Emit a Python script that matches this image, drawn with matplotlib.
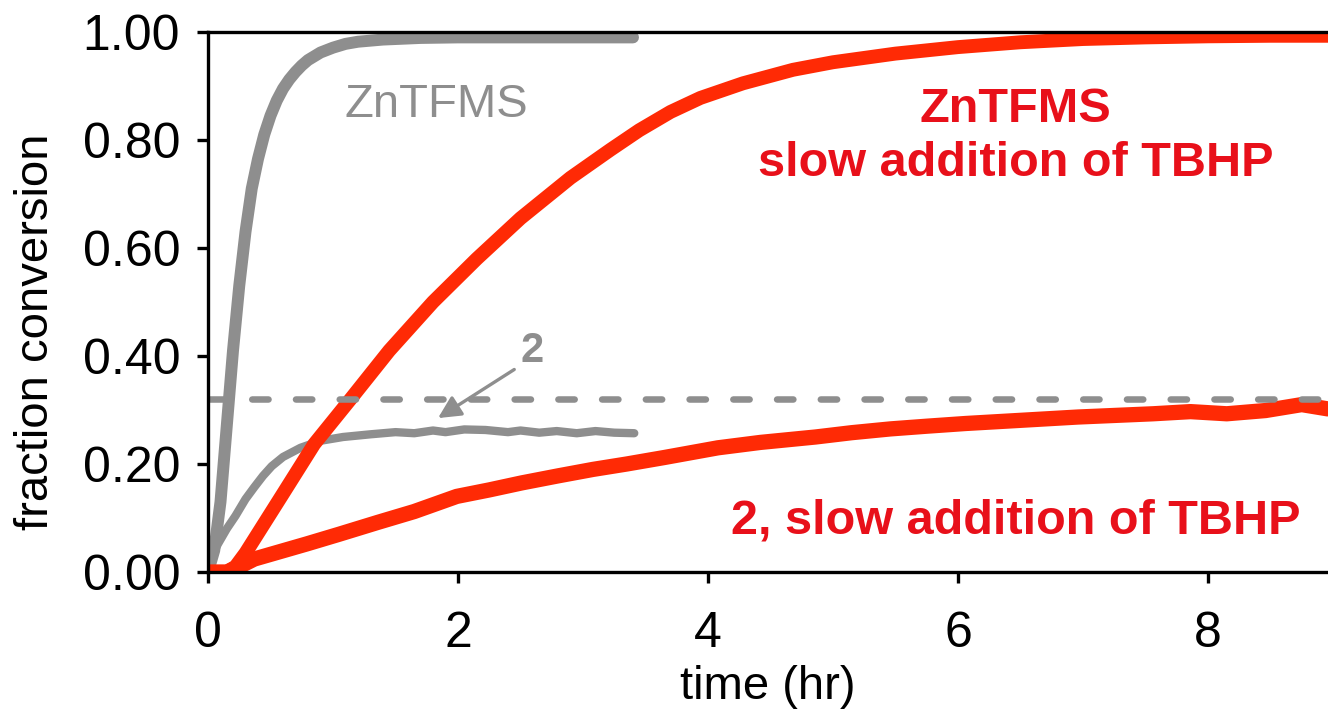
import matplotlib
matplotlib.use("Agg")
import matplotlib.pyplot as plt
from matplotlib.ticker import FormatStrFormatter

# ---- data ----
t_zn = [0.00, 0.05, 0.10, 0.15, 0.20, 0.25, 0.30, 0.35, 0.40, 0.45, 0.50, 0.55,
        0.60, 0.65, 0.70, 0.75, 0.80, 0.90, 1.00, 1.10, 1.20, 1.40, 1.70, 2.00,
        2.50, 3.00, 3.40]
y_zn = [0.00, 0.04, 0.13, 0.27, 0.41, 0.53, 0.63, 0.71, 0.765, 0.81, 0.845, 0.873,
        0.895, 0.912, 0.926, 0.938, 0.948, 0.962, 0.971, 0.978, 0.982, 0.986, 0.989,
        0.99, 0.99, 0.99, 0.99]

t_2 = [0.00, 0.03, 0.08, 0.15, 0.22, 0.30, 0.37, 0.44, 0.51, 0.60, 0.74, 0.90,
       1.08, 1.30, 1.50, 1.65, 1.80, 1.90, 2.05, 2.22, 2.40, 2.50, 2.65, 2.79,
       2.95, 3.10, 3.25, 3.41]
y_2 = [0.00, 0.03, 0.052, 0.08, 0.104, 0.135, 0.157, 0.178, 0.196, 0.213, 0.23,
       0.243, 0.25, 0.255, 0.259, 0.257, 0.262, 0.259, 0.264, 0.263, 0.259, 0.262,
       0.258, 0.261, 0.257, 0.261, 0.258, 0.257]

t_zn_slow = [0.05, 0.15, 0.22, 0.30, 0.45, 0.60, 0.85, 1.14, 1.45, 1.80, 2.15,
             2.50, 2.90, 3.22, 3.45, 3.70, 3.94, 4.28, 4.68, 5.00, 5.50, 6.00, 6.50,
             7.00, 7.50, 8.00, 8.50, 8.96]
y_zn_slow = [0.00, 0.00, 0.01, 0.035, 0.09, 0.145, 0.237, 0.32, 0.41, 0.50, 0.58,
             0.655, 0.73, 0.782, 0.818, 0.852, 0.878, 0.905, 0.93, 0.944, 0.96, 0.972,
             0.981, 0.987, 0.99, 0.992, 0.993, 0.993]

t_2_slow = [0.02, 0.15, 0.25, 0.37, 0.55, 0.79, 1.05, 1.36, 1.65, 1.99, 2.25, 2.51,
            2.80, 3.08, 3.35, 3.65, 4.08, 4.42, 4.86, 5.15, 5.46, 5.75, 6.06, 6.36,
            6.66, 6.96, 7.26, 7.56, 7.86, 8.15, 8.46, 8.75, 8.96]
y_2_slow = [0.00, 0.00, 0.01, 0.024, 0.036, 0.052, 0.07, 0.092, 0.112, 0.14, 0.152,
            0.165, 0.178, 0.19, 0.2, 0.212, 0.23, 0.24, 0.25, 0.258, 0.265, 0.27,
            0.275, 0.279, 0.283, 0.287, 0.29, 0.293, 0.297, 0.293, 0.299, 0.31, 0.302]

ref_level = 0.32

x_ticks = [0, 2, 4, 6, 8]
y_ticks = [0.0, 0.2, 0.4, 0.6, 0.8, 1.0]

GRAY = "#8e8e8e"
RED_LINE = "#ff2a05"
RED_TEXT = "#e8101a"

plt.rcParams["font.family"] = ["Liberation Sans", "DejaVu Sans"]

fig = plt.figure(figsize=(13.28, 7.12), dpi=100)
ax = fig.add_axes([208 / 1328, 140 / 712, 1 - 208 / 1328, 540 / 712])

ax.plot(t_zn, y_zn, color=GRAY, lw=8.6, solid_capstyle="round",
        solid_joinstyle="round", zorder=2)
ax.plot(t_2, y_2, color=GRAY, lw=6.0, solid_capstyle="round",
        solid_joinstyle="round", zorder=2)
ax.plot(t_zn_slow, y_zn_slow, color=RED_LINE, lw=10, solid_capstyle="round",
        solid_joinstyle="round", zorder=3)
ax.plot(t_2_slow, y_2_slow, color=RED_LINE, lw=11, solid_capstyle="round",
        solid_joinstyle="round", zorder=3)
ax.axhline(ref_level, color=GRAY, lw=4.7, dashes=(2.5, 4.2),
           dash_capstyle="round", zorder=4)

ax.set_xlim(0, 8.96)
ax.set_ylim(0, 1.0)
ax.set_xticks(x_ticks)
ax.set_yticks(y_ticks)
ax.yaxis.set_major_formatter(FormatStrFormatter("%.2f"))

for s in ["left", "bottom", "top"]:
    ax.spines[s].set_linewidth(2.4)
    ax.spines[s].set_zorder(5)
ax.spines["right"].set_visible(False)
ax.tick_params(axis="both", direction="out", length=8, width=2.4,
               labelsize=36, colors="black")
ax.tick_params(axis="y", pad=12)
ax.tick_params(axis="x", pad=20)
ax.tick_params(top=False, right=False)

ax.set_xlabel("time (hr)", fontsize=34, labelpad=6)
ax.set_ylabel("fraction conversion", fontsize=34)
ax.yaxis.set_label_coords(-0.134, 0.445)

ax.text(1.83, 0.865, "ZnTFMS", color=GRAY, fontsize=34, ha="center", va="center")
ax.text(2.59, 0.41, "2", color=GRAY, fontsize=30, fontweight="bold",
        ha="center", va="center")
ax.annotate("", xy=(1.84, 0.285), xytext=(2.45, 0.375),
            arrowprops=dict(arrowstyle="-|>", color=GRAY, lw=2.4,
                            mutation_scale=34, shrinkA=0, shrinkB=0), zorder=5)
ax.text(6.46, 0.856, "ZnTFMS", color=RED_TEXT, fontsize=35, fontweight="bold",
        ha="center", va="center")
ax.text(6.46, 0.757, "slow addition of TBHP", color=RED_TEXT, fontsize=35,
        fontweight="bold", ha="center", va="center")
ax.text(6.46, 0.094, "2, slow addition of TBHP", color=RED_TEXT, fontsize=35,
        fontweight="bold", ha="center", va="center")

fig.savefig("out.png", dpi=100)
